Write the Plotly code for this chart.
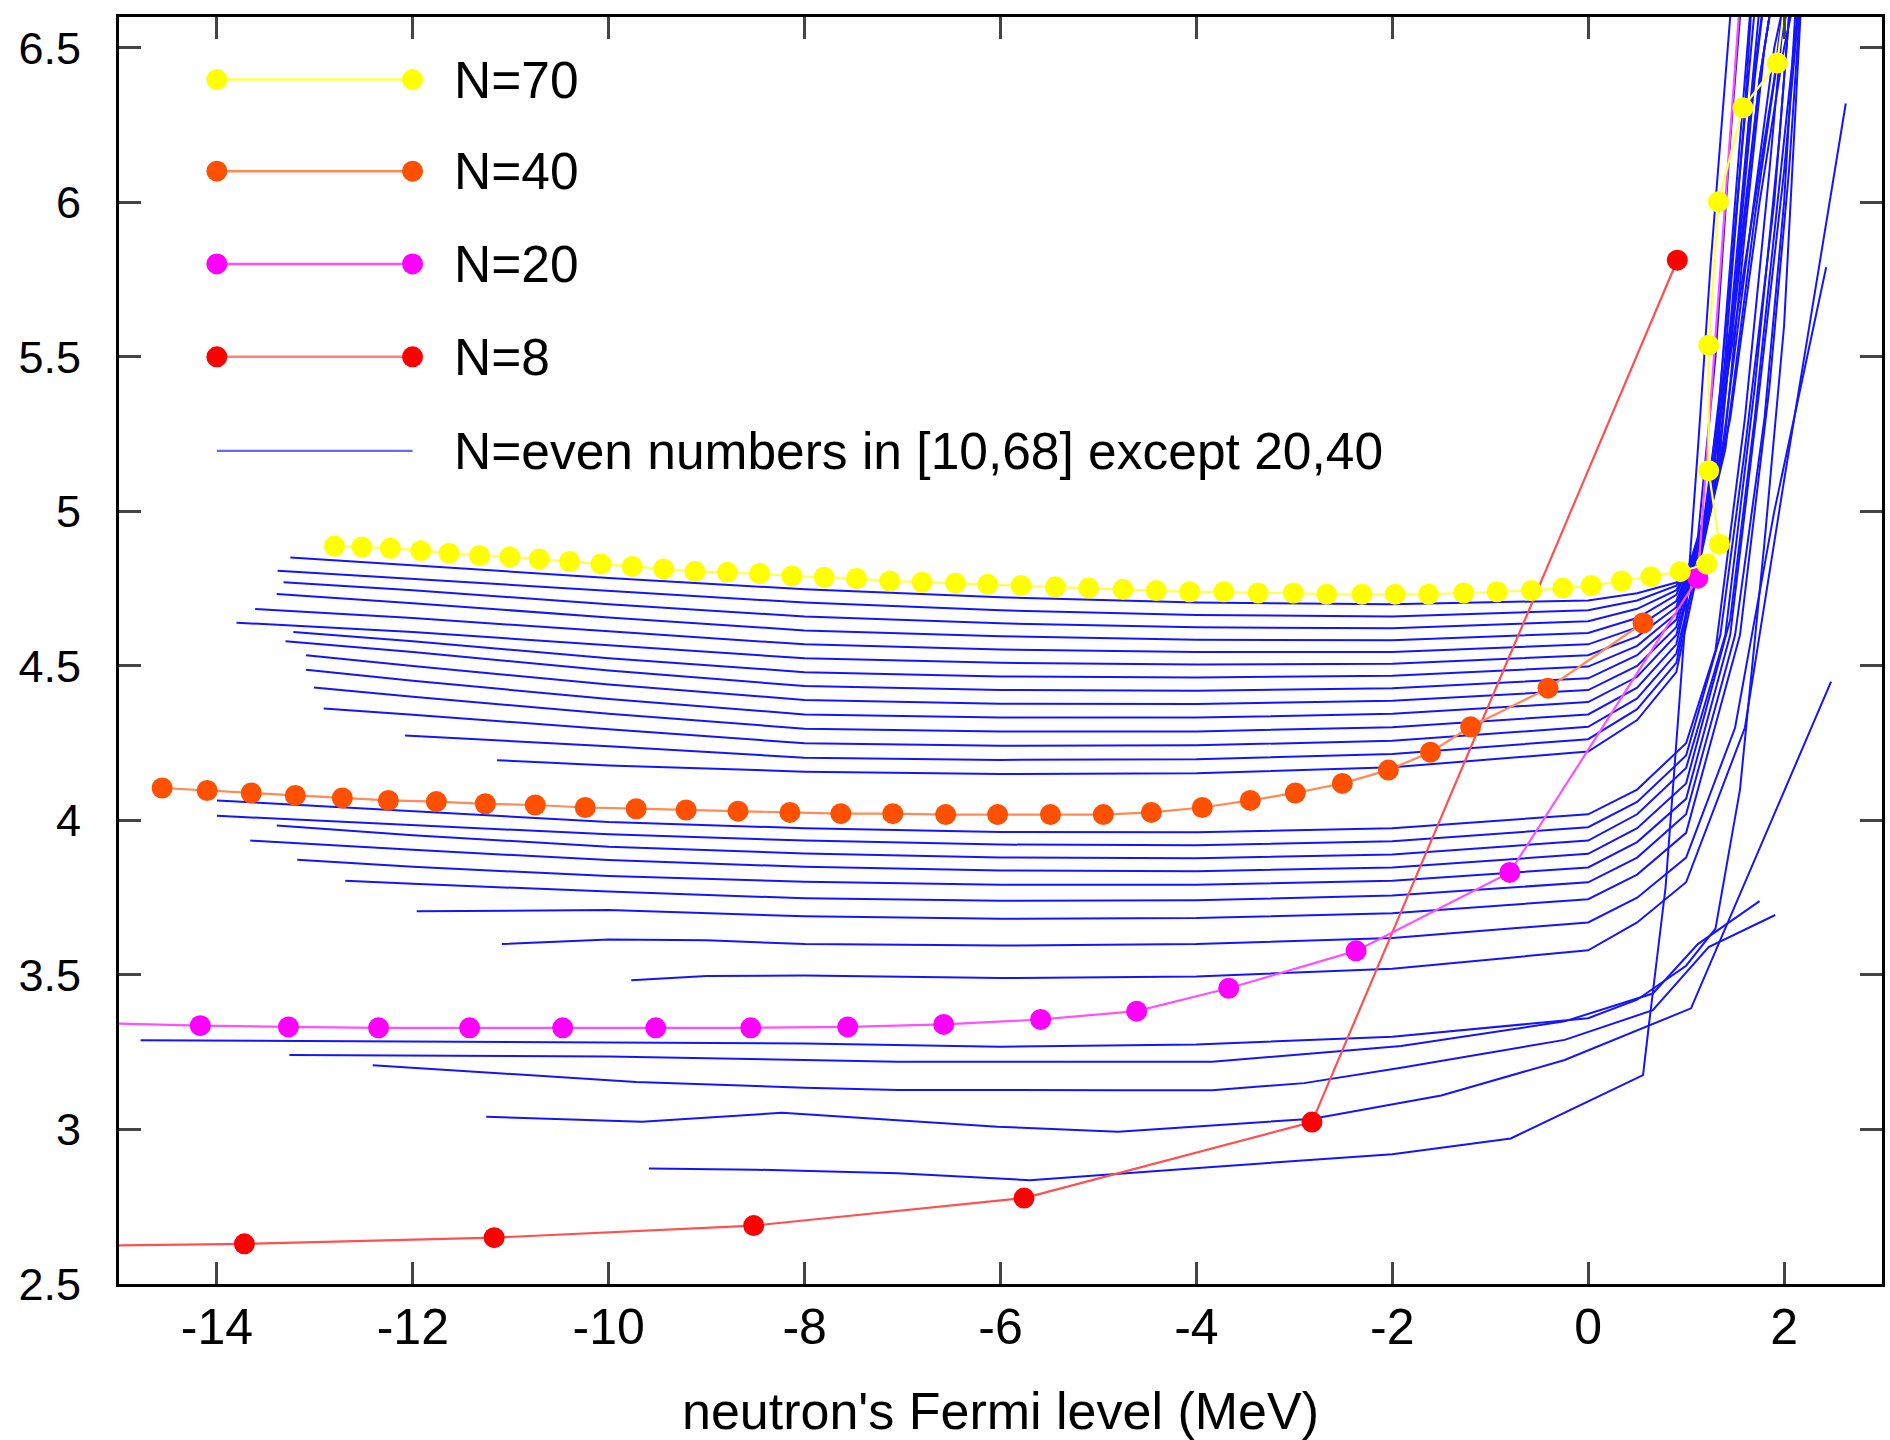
import plotly.graph_objects as go

# ---------------- data ----------------
# highlighted series (x = neutron Fermi level in MeV)
n70_x = [-12.80, -12.52, -12.23, -11.92, -11.63, -11.32, -11.01, -10.71, -10.40, -10.08,
         -9.76, -9.44, -9.12, -8.79, -8.46, -8.13, -7.80, -7.47, -7.13, -6.80,
         -6.46, -6.13, -5.79, -5.44, -5.10, -4.75, -4.41, -4.07, -3.72, -3.37,
         -3.01, -2.67, -2.31, -1.97, -1.63, -1.27, -0.93, -0.58, -0.26, 0.03,
         0.34, 0.64, 0.94, 1.21, 1.34, 1.23, 1.23, 1.33, 1.58, 1.93, 2.05]
n70_y = [4.888, 4.885, 4.881, 4.873, 4.865, 4.857, 4.853, 4.846, 4.838, 4.830,
         4.822, 4.814, 4.806, 4.803, 4.799, 4.791, 4.787, 4.783, 4.775, 4.771,
         4.768, 4.764, 4.760, 4.756, 4.752, 4.748, 4.744, 4.740, 4.740, 4.736,
         4.736, 4.732, 4.732, 4.732, 4.732, 4.736, 4.740, 4.744, 4.752, 4.760,
         4.775, 4.789, 4.805, 4.830, 4.894, 5.132, 5.538, 6.002, 6.306, 6.451, 6.750]

n40_x = [-14.56, -14.10, -13.65, -13.20, -12.72, -12.25, -11.76, -11.26, -10.75, -10.24,
         -9.72, -9.21, -8.68, -8.15, -7.63, -7.10, -6.56, -6.03, -5.49, -4.95,
         -4.46, -3.94, -3.45, -2.99, -2.51, -2.04, -1.61, -1.20, -0.41, 0.56]
n40_y = [4.105, 4.097, 4.089, 4.081, 4.073, 4.065, 4.061, 4.054, 4.050, 4.042,
         4.038, 4.034, 4.030, 4.026, 4.022, 4.022, 4.019, 4.019, 4.019, 4.019,
         4.026, 4.042, 4.065, 4.089, 4.120, 4.163, 4.221, 4.303, 4.428, 4.639]

n20_x = [-15.30, -14.17, -13.27, -12.35, -11.42, -10.47, -9.52, -8.55, -7.56, -6.58,
         -5.59, -4.61, -3.67, -2.37, -0.80, 1.12, 1.56]
n20_y = [3.345, 3.336, 3.332, 3.329, 3.329, 3.329, 3.329, 3.329, 3.332, 3.340,
         3.356, 3.383, 3.457, 3.578, 3.832, 4.784, 6.700]

n8_x = [-16.40, -13.72, -11.17, -8.52, -5.76, -2.82, 0.91]
n8_y = [2.620, 2.630, 2.650, 2.689, 2.778, 3.024, 5.813]

# blue curves: N = even numbers in [10,68] except 20, 40
blue_n68_x = [-13.25, -12, -10, -8, -6, -4, -2, 0, 0.5, 0.9, 1.15, 1.35, 1.55, 1.75]
blue_n68_y = [4.851, 4.825, 4.785, 4.748, 4.722, 4.705, 4.700, 4.712, 4.735, 4.770, 4.860, 5.40, 6.10, 6.80]
blue_n66_x = [-13.38, -12, -10, -8, -6, -4, -2, 0, 0.5, 0.9, 1.1, 1.3, 1.45, 1.6]
blue_n66_y = [4.808, 4.782, 4.744, 4.705, 4.680, 4.665, 4.660, 4.680, 4.712, 4.760, 4.850, 5.50, 6.20, 6.80]
blue_n64_x = [-13.32, -12, -10, -8, -6, -4, -2, 0, 0.5, 0.9, 1.15, 1.45, 1.65, 1.85]
blue_n64_y = [4.771, 4.745, 4.700, 4.660, 4.638, 4.625, 4.622, 4.645, 4.685, 4.745, 4.900, 5.60, 6.30, 6.80]
blue_n62_x = [-13.39, -12, -10, -8, -6, -4, -2, 0, 0.5, 0.9, 1.2, 1.5, 1.75, 1.95]
blue_n62_y = [4.733, 4.703, 4.657, 4.615, 4.596, 4.585, 4.583, 4.607, 4.655, 4.730, 4.950, 5.70, 6.40, 6.80]
blue_n60_x = [-13.61, -12, -10, -8, -6, -4, -2, 0, 0.5, 0.9, 1.25, 1.4, 1.55, 1.7]
blue_n60_y = [4.684, 4.655, 4.612, 4.570, 4.553, 4.545, 4.545, 4.570, 4.625, 4.710, 5.000, 5.60, 6.20, 6.80]
blue_n58_x = [-13.80, -12, -10, -8, -6, -4, -2, 0, 0.5, 0.9, 1.2, 1.6, 1.9, 2.05]
blue_n58_y = [4.640, 4.610, 4.567, 4.525, 4.510, 4.505, 4.507, 4.535, 4.595, 4.690, 5.000, 5.80, 6.40, 6.80]
blue_n56_x = [-13.22, -12, -10, -8, -6, -4, -2, 0, 0.5, 0.9, 1.25, 1.5, 1.65, 1.8]
blue_n56_y = [4.610, 4.580, 4.525, 4.480, 4.466, 4.463, 4.468, 4.498, 4.565, 4.670, 5.050, 5.70, 6.30, 6.80]
blue_n54_x = [-13.30, -12, -10, -8, -6, -4, -2, 0, 0.5, 0.9, 1.3, 1.55, 1.75, 1.95]
blue_n54_y = [4.580, 4.545, 4.485, 4.435, 4.422, 4.420, 4.428, 4.460, 4.535, 4.650, 5.100, 5.80, 6.40, 6.80]
blue_n52_x = [-13.09, -12, -10, -8, -6, -4, -2, 0, 0.5, 0.9, 1.3, 1.45, 1.6, 1.7]
blue_n52_y = [4.535, 4.500, 4.440, 4.390, 4.378, 4.377, 4.387, 4.422, 4.500, 4.625, 5.100, 5.70, 6.30, 6.80]
blue_n50_x = [-13.09, -12, -10, -8, -6, -4, -2, 0, 0.5, 0.9, 1.35, 1.65, 1.9, 2.1]
blue_n50_y = [4.488, 4.452, 4.393, 4.343, 4.333, 4.333, 4.345, 4.383, 4.465, 4.600, 5.150, 5.90, 6.50, 6.80]
blue_n48_x = [-13.01, -12, -10, -8, -6, -4, -2, 0, 0.5, 0.9, 1.35, 1.55, 1.7, 1.85]
blue_n48_y = [4.430, 4.400, 4.345, 4.297, 4.288, 4.288, 4.302, 4.343, 4.430, 4.570, 5.200, 5.90, 6.40, 6.80]
blue_n46_x = [-12.91, -12, -10, -8, -6, -4, -2, 0, 0.5, 0.9, 1.4, 1.7, 1.95, 2.15]
blue_n46_y = [4.362, 4.342, 4.295, 4.250, 4.242, 4.243, 4.258, 4.303, 4.395, 4.540, 5.200, 5.95, 6.50, 6.80]
blue_n44_x = [-12.08, -10, -8, -6, -4, -2, 0, 0.5, 0.9, 1.4, 1.6, 1.8, 1.95]
blue_n44_y = [4.275, 4.240, 4.203, 4.196, 4.198, 4.215, 4.263, 4.360, 4.510, 5.250, 5.90, 6.50, 6.80]
blue_n42_x = [-11.14, -10, -8, -6, -4, -2, 0, 0.5, 0.9, 1.45, 1.75, 2.0, 2.2]
blue_n42_y = [4.195, 4.178, 4.158, 4.150, 4.153, 4.172, 4.223, 4.325, 4.480, 5.300, 6.00, 6.50, 6.80]
blue_n38_x = [-14.0, -12, -10, -8, -6, -4, -2, 0, 0.5, 1.0, 1.3, 1.6, 1.85, 2.05]
blue_n38_y = [4.065, 4.030, 3.995, 3.975, 3.963, 3.962, 3.975, 4.020, 4.100, 4.250, 4.550, 5.30, 6.10, 6.80]
blue_n36_x = [-14.0, -12, -10, -8, -6, -4, -2, 0, 0.5, 1.0, 1.35, 1.6, 1.9, 2.1]
blue_n36_y = [4.015, 3.985, 3.955, 3.935, 3.922, 3.920, 3.933, 3.978, 4.060, 4.210, 4.600, 5.20, 6.00, 6.80]
blue_n34_x = [-13.39, -12, -10, -8, -6, -4, -2, 0, 0.5, 1.0, 1.4, 1.7, 1.95, 2.1]
blue_n34_y = [3.984, 3.952, 3.915, 3.893, 3.880, 3.878, 3.890, 3.935, 4.020, 4.170, 4.600, 5.40, 6.20, 6.80]
blue_n32_x = [-13.66, -12, -10, -8, -6, -4, -2, 0, 0.5, 1.0, 1.45, 1.7, 1.9, 2.2]
blue_n32_y = [3.935, 3.905, 3.872, 3.850, 3.838, 3.836, 3.848, 3.892, 3.975, 4.120, 4.650, 5.30, 5.90, 6.80]
blue_n30_x = [-13.18, -12, -10, -8, -6, -4, -2, 0, 0.5, 1.0, 1.45, 1.75, 2.0, 2.2]
blue_n30_y = [3.873, 3.850, 3.820, 3.802, 3.792, 3.792, 3.805, 3.848, 3.930, 4.070, 4.600, 5.40, 6.10, 6.80]
blue_n28_x = [-12.69, -12, -10, -8, -6, -4, -2, 0, 0.5, 1.0, 1.5, 1.8, 2.0, 2.15]
blue_n28_y = [3.805, 3.795, 3.770, 3.748, 3.740, 3.742, 3.757, 3.800, 3.880, 4.020, 4.600, 5.30, 6.00, 6.80]
blue_n26_x = [-11.96, -10, -8, -6, -4, -2, 0, 0.5, 1.0, 1.55, 1.85, 2.05, 2.2]
blue_n26_y = [3.706, 3.710, 3.690, 3.682, 3.684, 3.700, 3.745, 3.825, 3.960, 4.600, 5.40, 6.10, 6.80]
blue_n24_x = [-11.09, -10, -9, -8, -6, -4, -2, 0, 0.5, 1.0, 1.5, 1.9, 2.43]
blue_n24_y = [3.600, 3.615, 3.612, 3.600, 3.595, 3.600, 3.620, 3.670, 3.750, 3.880, 4.300, 5.00, 5.79]
blue_n22_x = [-9.77, -9, -8, -6, -4, -2, 0, 0.5, 1.0, 1.6, 2.0, 2.63]
blue_n22_y = [3.483, 3.497, 3.498, 3.490, 3.495, 3.520, 3.580, 3.670, 3.800, 4.300, 5.10, 6.32]
blue_n18_x = [-14.78, -12, -10, -8, -6, -4, -2, 0, 0.5, 1.0, 1.3, 1.55, 1.8, 2.0, 2.2]
blue_n18_y = [3.289, 3.285, 3.280, 3.278, 3.268, 3.275, 3.300, 3.360, 3.420, 3.530, 3.650, 4.100, 4.900, 5.600, 6.80]
blue_n16_x = [-13.26, -12, -10, -8, -7.05, -3.84, -1.91, -0.24, 0.66, 1.12, 1.75]
blue_n16_y = [3.241, 3.240, 3.236, 3.225, 3.219, 3.219, 3.270, 3.350, 3.440, 3.600, 3.739]
blue_n14_x = [-12.41, -11, -9.72, -8, -7.05, -4.8, -3.84, -2.9, -1.91, -0.24, 0.66, 1.23, 1.91]
blue_n14_y = [3.208, 3.180, 3.154, 3.135, 3.128, 3.127, 3.127, 3.150, 3.200, 3.290, 3.386, 3.590, 3.694]
blue_n12_x = [-11.25, -9.66, -8.23, -7.0, -6.03, -4.80, -2.81, -1.5, -0.24, 1.05, 2.48]
blue_n12_y = [3.041, 3.025, 3.054, 3.030, 3.009, 2.993, 3.035, 3.110, 3.225, 3.392, 4.449]
blue_n10_x = [-9.59, -8.5, -7.05, -5.70, -3.84, -2.0, -0.79, 0.56, 0.62, 0.79, 0.93, 1.00, 1.12, 1.25, 1.4, 1.5]
blue_n10_y = [2.874, 2.870, 2.858, 2.836, 2.879, 2.920, 2.971, 3.176, 3.338, 3.783, 4.378, 4.675, 5.200, 5.800, 6.400, 6.800]

# axis ticks
x_tick_vals = [-14, -12, -10, -8, -6, -4, -2, 0, 2]
x_tick_text = ["-14", "-12", "-10", "-8", "-6", "-4", "-2", "0", "2"]
y_tick_vals = [2.5, 3, 3.5, 4, 4.5, 5, 5.5, 6, 6.5]
y_tick_text = ["2.5", "3", "3.5", "4", "4.5", "5", "5.5", "6", "6.5"]

# ---------------- figure ----------------
BLUE = "rgb(20,20,255)"
FONT = "Liberation Sans, Arial, Helvetica, sans-serif"
MSIZE = 21

fig = go.Figure()

blue_lines = [
    (blue_n10_x, blue_n10_y), (blue_n12_x, blue_n12_y), (blue_n14_x, blue_n14_y),
    (blue_n16_x, blue_n16_y), (blue_n18_x, blue_n18_y), (blue_n22_x, blue_n22_y),
    (blue_n24_x, blue_n24_y), (blue_n26_x, blue_n26_y), (blue_n28_x, blue_n28_y),
    (blue_n30_x, blue_n30_y), (blue_n32_x, blue_n32_y), (blue_n34_x, blue_n34_y),
    (blue_n36_x, blue_n36_y), (blue_n38_x, blue_n38_y), (blue_n42_x, blue_n42_y),
    (blue_n44_x, blue_n44_y), (blue_n46_x, blue_n46_y), (blue_n48_x, blue_n48_y),
    (blue_n50_x, blue_n50_y), (blue_n52_x, blue_n52_y), (blue_n54_x, blue_n54_y),
    (blue_n56_x, blue_n56_y), (blue_n58_x, blue_n58_y), (blue_n60_x, blue_n60_y),
    (blue_n62_x, blue_n62_y), (blue_n64_x, blue_n64_y), (blue_n66_x, blue_n66_y),
    (blue_n68_x, blue_n68_y),
]
for bx, by in blue_lines:
    fig.add_trace(go.Scatter(
        x=bx, y=by, mode="lines", name="N=even numbers in [10,68] except 20,40",
        line=dict(color=BLUE, width=2.0), showlegend=False, hoverinfo="skip"))

series = [
    ("N=8", n8_x, n8_y, "#ff0000", "#ff5050"),
    ("N=20", n20_x, n20_y, "#ff00ff", "#ff50ff"),
    ("N=40", n40_x, n40_y, "#ff5000", "#ff8a55"),
    ("N=70", n70_x, n70_y, "#ffff00", "#ffff50"),
]
for name, sx, sy, mc, lc in series:
    fig.add_trace(go.Scatter(
        x=sx, y=sy, mode="lines+markers", name=name,
        line=dict(color=lc, width=2.2),
        marker=dict(color=mc, size=MSIZE, line=dict(width=0)),
        showlegend=False, hoverinfo="skip"))

# ---------------- key (drawn like the gnuplot key) ----------------
key_rows = [
    ("N=70", "#ffff00", "#ffff50", 0.9506, True),
    ("N=40", "#ff5000", "#ff8a55", 0.8783, True),
    ("N=20", "#ff00ff", "#ff50ff", 0.8051, True),
    ("N=8", "#ff0000", "#ff8080", 0.7318, True),
    ("N=even numbers in [10,68] except 20,40", BLUE, "#6868ff", 0.6576, False),
]
KX0, KX1, KTX = 0.0555, 0.1665, 0.1891
R = MSIZE / 2
shapes = []
annotations = []
for label, mc, lc, ky, has_marker in key_rows:
    shapes.append(dict(type="line", xref="paper", yref="paper", x0=KX0, x1=KX1, y0=ky, y1=ky,
                       line=dict(color=lc, width=2.5 if has_marker else 2.2), layer="above"))
    if has_marker:
        for kx in (KX0, KX1):
            shapes.append(dict(type="circle", xref="paper", yref="paper",
                               xsizemode="pixel", ysizemode="pixel",
                               xanchor=kx, yanchor=ky, x0=-R, x1=R, y0=-R, y1=R,
                               fillcolor=mc, line=dict(width=0), layer="above"))
    annotations.append(dict(text=label, xref="paper", yref="paper", x=KTX, y=ky,
                            xanchor="left", yanchor="middle", showarrow=False,
                            font=dict(family=FONT, size=51.5, color="black")))

fig.update_layout(
    width=1890, height=1440,
    margin=dict(l=119, r=5, t=17, b=156),
    paper_bgcolor="white", plot_bgcolor="white",
    font=dict(family=FONT, size=50, color="black"),
    showlegend=False,
    shapes=shapes, annotations=annotations,
)
fig.update_xaxes(
    range=[-15, 3], tickvals=x_tick_vals, ticktext=x_tick_text,
    ticks="inside", ticklen=22, tickwidth=3, tickcolor="#444",
    showline=True, linewidth=3, linecolor="black", mirror="ticks",
    showgrid=False, zeroline=False, ticklabelstandoff=-3,
    tickfont=dict(family=FONT, size=50),
    title=dict(text="neutron's Fermi level (MeV)", font=dict(family=FONT, size=52), standoff=40),
)
fig.update_yaxes(
    range=[2.5, 6.6], tickvals=y_tick_vals, ticktext=y_tick_text,
    ticks="inside", ticklen=22, tickwidth=3, tickcolor="#444",
    showline=True, linewidth=3, linecolor="black", mirror="ticks",
    showgrid=False, zeroline=False, ticklabelstandoff=26,
    tickfont=dict(family=FONT, size=45),
)

# page has no body margin so the figure sits at the window's top-left corner
fig.write_html("out.html", config={"displayModeBar": False},
               post_script="document.body.style.margin='0px';")
